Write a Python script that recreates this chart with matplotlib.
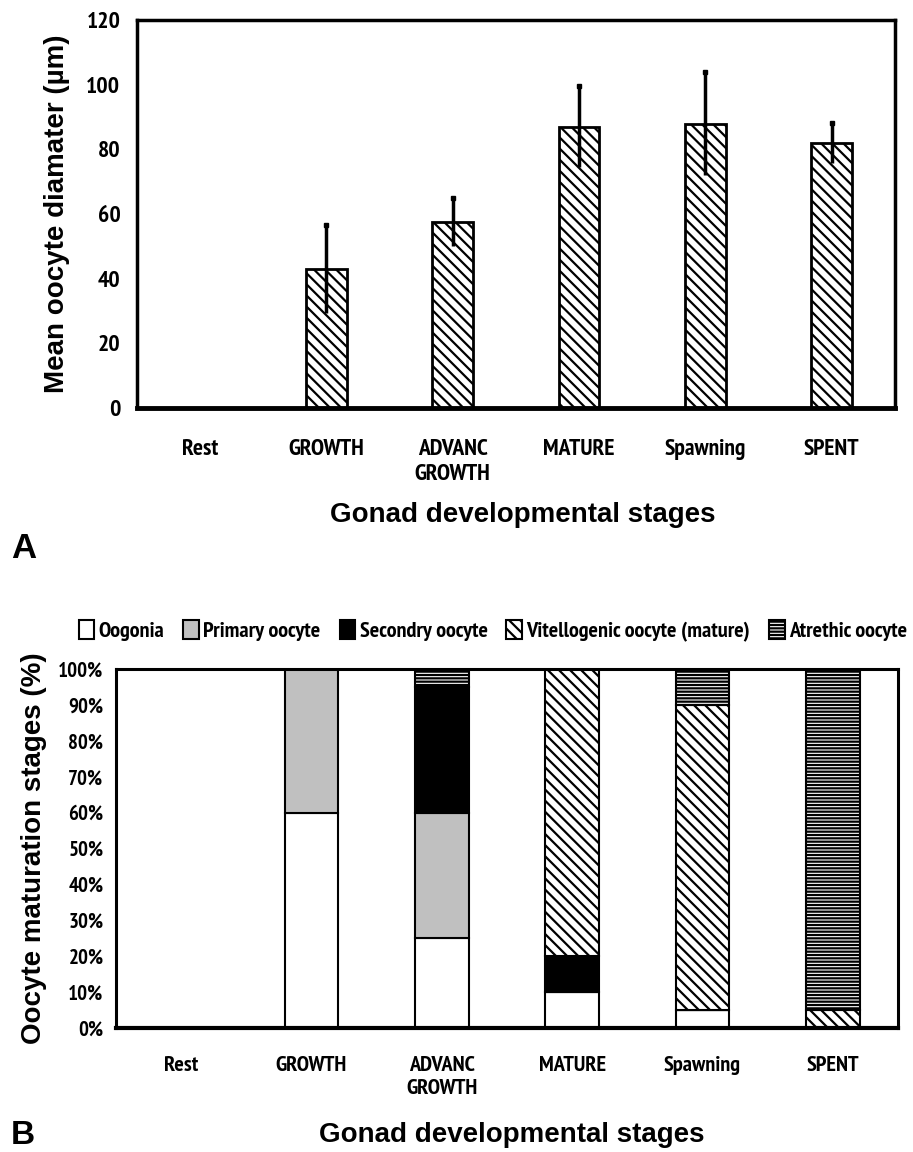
import numpy as np
import matplotlib
matplotlib.use("Agg")
import matplotlib.pyplot as plt
from matplotlib import font_manager as fm

plt.rcParams["hatch.linewidth"] = 1.6
plt.rcParams["font.weight"] = "bold"

stages = ["Rest", "GROWTH", "ADVANC\nGROWTH", "MATURE", "Spawning", "SPENT"]

# panel A: mean oocyte diameter (um) and error
diam_mean = [0, 43, 57.5, 87, 88, 82]
diam_err = [0, 13.5, 7.5, 12.5, 16, 6.3]

# panel B: percentage of oocyte stages
oogonia = [0, 60, 25, 10, 5, 0]
primary = [0, 40, 35, 0, 0, 0]
secondary = [0, 0, 35, 10, 0, 0]
vitello = [0, 0, 0, 80, 85, 5]
atretic = [0, 0, 5, 0, 10, 95]
series_names = ["Oogonia", "Primary oocyte", "Secondry oocyte",
                "Vitellogenic oocyte (mature)", "Atrethic oocyte"]


# narrow bold font for tick labels / legend (Arial Narrow look)
def narrow_font(size):
    for f in fm.fontManager.ttflist:
        if "Narrow" in f.name and f.weight in ("bold", 700):
            return fm.FontProperties(fname=f.fname, size=size)
    return fm.FontProperties(family="DejaVu Sans", stretch="condensed",
                             weight="bold", size=size)


wide = ["Liberation Sans", "DejaVu Sans"]

fig = plt.figure(figsize=(9.13, 11.52), dpi=100)
x = np.arange(len(stages))

# ---------- A ----------
axA = fig.add_axes([0.150, 0.6458, 0.830, 0.3368])
axA.bar(x, diam_mean, width=0.32, color="white", edgecolor="black",
        linewidth=2, hatch="\\\\\\")
has = np.array(diam_mean) > 0
top = np.array(diam_mean) + np.array(diam_err)
axA.errorbar(x[has], np.array(diam_mean)[has], yerr=np.array(diam_err)[has],
             fmt="none", ecolor="black", elinewidth=2.5, capsize=0)
axA.plot(x[has], top[has], "s", color="black", ms=3.5)
axA.set_xlim(-0.5, 5.5)
axA.set_ylim(0, 120)
axA.set_yticks(range(0, 121, 20))
axA.set_xticks(x)
axA.set_xticklabels(stages, fontproperties=narrow_font(17), linespacing=1.25)
axA.set_yticklabels([str(v) for v in range(0, 121, 20)],
                    fontproperties=narrow_font(17))
axA.tick_params(length=0, pad=12)
axA.tick_params(axis="x", pad=22)
for s in axA.spines.values():
    s.set_linewidth(2.5)
axA.spines["bottom"].set_linewidth(3.5)
axA.set_ylabel("Mean oocyte diamater (µm)", fontfamily=wide, fontsize=20,
               fontweight="bold", labelpad=12)
fig.text(0.573, 1 - 515 / 1152, "Gonad developmental stages", fontfamily=wide,
         fontsize=20, fontweight="bold", ha="center", va="center")
fig.text(0.012, 1 - 548 / 1152, "A", fontfamily=wide, fontsize=25,
         fontweight="bold", ha="left", va="center")

# ---------- B ----------
axB = fig.add_axes([0.127, 0.1076, 0.8566, 0.3117])
w = 0.41
bottom = np.zeros(len(stages))
styles = [
    dict(color="white", hatch=None),
    dict(color="#c0c0c0", hatch=None),
    dict(color="black", hatch=None),
    dict(color="white", hatch="\\\\\\"),
    dict(color="white", hatch="-----"),
]
handles = []
for vals, name, st in zip([oogonia, primary, secondary, vitello, atretic],
                          series_names, styles):
    vals = np.array(vals, dtype=float)
    bars = axB.bar(x, vals, width=w, bottom=bottom, color=st["color"],
                   edgecolor="black", linewidth=1.5, hatch=st["hatch"],
                   label=name)
    handles.append(bars)
    bottom += vals
axB.set_xlim(-0.5, 5.5)
axB.set_ylim(0, 100)
axB.set_yticks(range(0, 101, 10))
axB.set_yticklabels([f"{v}%" for v in range(0, 101, 10)],
                    fontproperties=narrow_font(15))
axB.set_xticks(x)
axB.set_xticklabels(stages, fontproperties=narrow_font(16), linespacing=1.25)
axB.tick_params(length=0, pad=9)
axB.tick_params(axis="x", pad=20)
for s in axB.spines.values():
    s.set_linewidth(2.2)
axB.spines["bottom"].set_linewidth(3)
axB.set_ylabel("Oocyte maturation stages (%)", fontfamily=wide, fontsize=20,
               fontweight="bold", labelpad=8)
fig.legend(handles=handles, loc="center", bbox_to_anchor=(0.540, 1 - 631 / 1152),
           ncol=5, frameon=False, handlelength=0.7, handleheight=0.9,
           handletextpad=0.2, columnspacing=0.85, prop=narrow_font(16))
fig.text(0.56, 1 - 1135 / 1152, "Gonad developmental stages", fontfamily=wide,
         fontsize=20, fontweight="bold", ha="center", va="center")
fig.text(0.012, 1 - 1136 / 1152, "B", fontfamily=wide, fontsize=24,
         fontweight="bold", ha="left", va="center")

fig.savefig("out.png", dpi=100, facecolor="white")
